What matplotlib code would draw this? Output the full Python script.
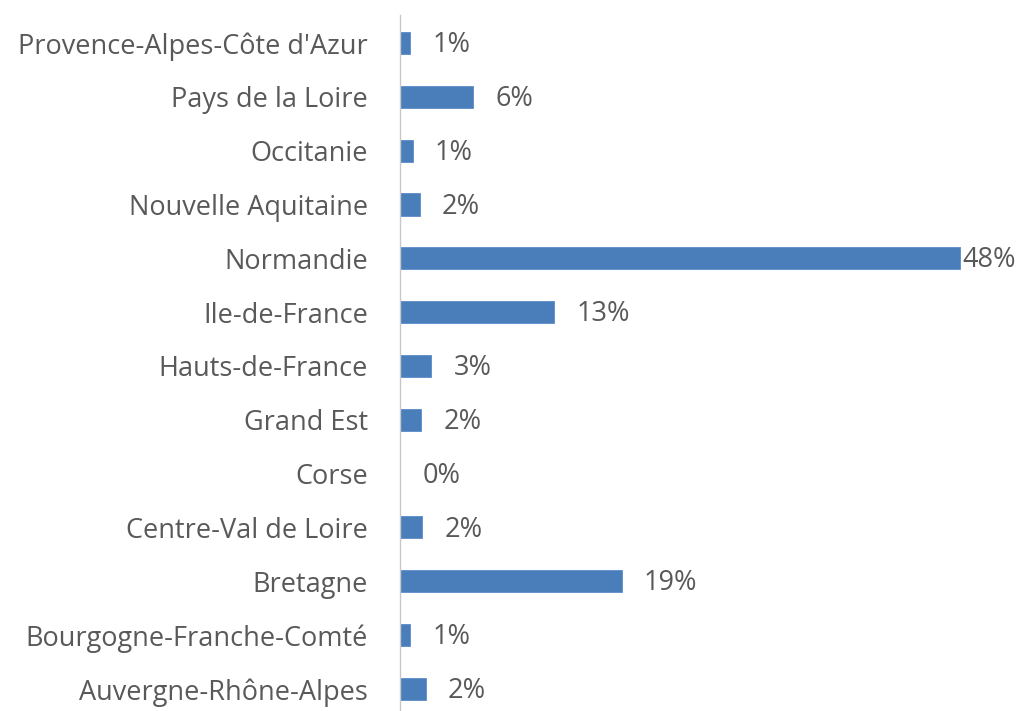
import matplotlib
matplotlib.use("Agg")
import matplotlib.pyplot as plt

regions = ["Auvergne-Rhône-Alpes", "Bourgogne-Franche-Comté", "Bretagne",
           "Centre-Val de Loire", "Corse", "Grand Est", "Hauts-de-France",
           "Ile-de-France", "Normandie", "Nouvelle Aquitaine", "Occitanie",
           "Pays de la Loire", "Provence-Alpes-Côte d'Azur"]
values = [2.2, 0.85, 19.0, 1.9, 0.0, 1.8, 2.7, 13.2, 48.0, 1.7, 1.1, 6.3, 0.9]
labels = ["2%", "1%", "19%", "2%", "0%", "2%", "3%", "13%", "48%", "2%", "1%", "6%", "1%"]

plt.rcParams['font.family'] = ['Open Sans', 'DejaVu Sans']
text_color = "#595959"
bar_color = "#4A7EBB"

fig = plt.figure(figsize=(10.23, 7.11), dpi=100)
ax = fig.add_axes([400/1023, 0, 583/1023, (711-15)/711])

y = list(range(len(regions)))
ax.barh(y, values, height=0.41, color=bar_color, edgecolor="#5B8BC9", linewidth=0.6)
ax.set_xlim(0, 50)
ax.set_ylim(-0.41, 12.52)
ax.set_yticks(y)
ax.set_yticklabels(regions, fontsize=19.5, color=text_color)
ax.tick_params(axis='y', length=0, pad=23)
ax.set_xticks([])
for s in ["top", "right", "bottom"]:
    ax.spines[s].set_visible(False)
ax.spines["left"].set_color("#C8C8C8")
ax.spines["left"].set_linewidth(1.0)

for yi, v, lab in zip(y, values, labels):
    off = 16 if v < 40 else 2
    ax.annotate(lab, xy=(v, yi), xytext=(off, -1.5), textcoords="offset points",
                va="center", ha="left", fontsize=19.5, color=text_color,
                annotation_clip=False)

fig.savefig("out.png", dpi=100)
